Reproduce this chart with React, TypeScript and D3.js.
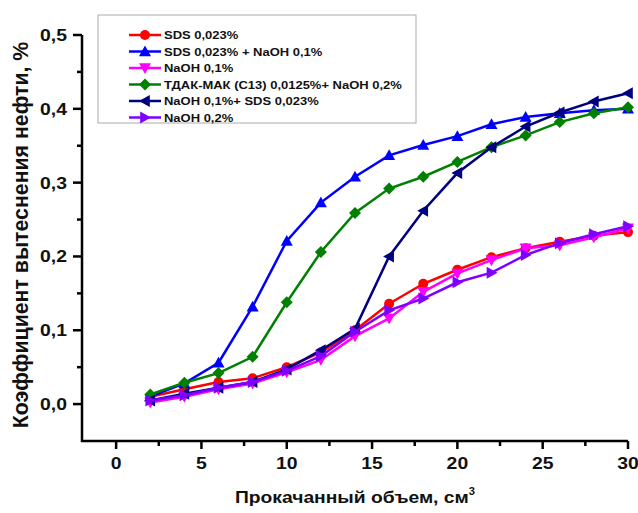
import React from "react";
import * as d3 from "d3";

const xs = [2, 4, 6, 8, 10, 12, 14, 16, 18, 20, 22, 24, 26, 28, 30];
const sds = [0.01, 0.02, 0.03, 0.035, 0.05, 0.07, 0.1, 0.136, 0.163, 0.182, 0.199, 0.211, 0.22, 0.228, 0.233];
const sdsNaoh = [0.01, 0.028, 0.056, 0.132, 0.221, 0.273, 0.308, 0.337, 0.351, 0.363, 0.379, 0.389, 0.394, 0.398, 0.4];
const naoh01 = [0.002, 0.01, 0.02, 0.028, 0.043, 0.06, 0.092, 0.116, 0.152, 0.177, 0.195, 0.211, 0.215, 0.226, 0.238];
const tdak = [0.013, 0.029, 0.042, 0.064, 0.138, 0.206, 0.259, 0.292, 0.308, 0.328, 0.348, 0.364, 0.382, 0.394, 0.402];
const naohSds = [0.005, 0.014, 0.022, 0.03, 0.047, 0.073, 0.102, 0.2, 0.262, 0.313, 0.348, 0.376, 0.395, 0.41, 0.421];
const naoh02 = [0.005, 0.012, 0.022, 0.03, 0.045, 0.065, 0.098, 0.127, 0.143, 0.165, 0.178, 0.202, 0.218, 0.23, 0.241];

const seriesNames = [
  "SDS 0,023%",
  "SDS 0,023% + NaOH 0,1%",
  "NaOH 0,1%",
  "ТДАК-МАК (С13) 0,0125%+ NaOH 0,2%",
  "NaOH 0,1%+ SDS 0,023%",
  "NaOH 0,2%",
];
const seriesValues = [sds, sdsNaoh, naoh01, tdak, naohSds, naoh02];
const seriesColors = ["#ff0000", "#0000ff", "#ff00ff", "#008000", "#000080", "#8000ff"];
const seriesMarkers = ["circle", "up", "down", "diamond", "left", "right"];

const xTicks = [0, 5, 10, 15, 20, 25, 30];
const xMinor = [2.5, 7.5, 12.5, 17.5, 22.5, 27.5];
const yTicks = [0, 0.1, 0.2, 0.3, 0.4, 0.5];
const yMinor = [0.05, 0.15, 0.25, 0.35, 0.45];

const X0 = 82, X1 = 628, Y0 = 441, Y1 = 35;
const SX = 1.12;

function marker(type: string, cx: number, cy: number, color: string, key: string | number) {
  const s = 6;
  if (type === "circle") return <circle key={key} cx={cx} cy={cy} r={5} fill={color} />;
  let pts: number[][] = [];
  if (type === "up") pts = [[0, -s], [s, s * 0.8], [-s, s * 0.8]];
  if (type === "down") pts = [[0, s], [s, -s * 0.8], [-s, -s * 0.8]];
  if (type === "left") pts = [[-s, 0], [s * 0.8, -s], [s * 0.8, s]];
  if (type === "right") pts = [[s, 0], [-s * 0.8, -s], [-s * 0.8, s]];
  if (type === "diamond") pts = [[0, -s], [s, 0], [0, s], [-s, 0]];
  return (
    <polygon key={key} points={pts.map((p) => `${cx + p[0]},${cy + p[1]}`).join(" ")} fill={color} />
  );
}

export default function App() {
  const x = d3.scaleLinear().domain([-2, 30]).range([X0, X1]);
  const y = d3.scaleLinear().domain([-0.05, 0.5]).range([Y0, Y1]);
  const line = d3.line<number>().x((_, i) => x(xs[i])).y((v) => y(v));
  const font = "'Liberation Sans', Arial, sans-serif";
  const fmt = (v: number) => v.toFixed(1).replace(".", ",");

  return (
    <svg width={638} height={513} style={{ position: "absolute", left: 0, top: 0, background: "#fff" }} fontFamily={font}>
      <rect width={638} height={513} fill="#fff" />
      {/* legend */}
      <rect x={98} y={15} width={318} height={108} fill="#fff" stroke="#aaa" strokeWidth={1} />
      {seriesNames.map((n, i) => {
        const ly = 35 + i * 16.5;
        return (
          <g key={n}>
            <line x1={129} x2={161} y1={ly} y2={ly} stroke={seriesColors[i]} strokeWidth={2.5} />
            {marker(seriesMarkers[i], 145, ly, seriesColors[i], "m")}
            <g transform={`translate(164,${ly + 4.2}) scale(${SX},1)`}>
              <text fontSize={11.6} fontWeight="bold" fill="#111">{n}</text>
            </g>
          </g>
        );
      })}
      {/* series */}
      {seriesValues.map((vals, i) => (
        <g key={i}>
          <path d={line(vals) || ""} fill="none" stroke={seriesColors[i]} strokeWidth={2.5} />
          {vals.map((v, j) => marker(seriesMarkers[i], x(xs[j]), y(v), seriesColors[i], j))}
        </g>
      ))}
      {/* axes */}
      <path d={`M${X0},${Y1} V${Y0} H${X1}`} fill="none" stroke="#000" strokeWidth={2.5} />
      {xTicks.map((t) => (
        <g key={t}>
          <line x1={x(t)} x2={x(t)} y1={Y0} y2={Y0 + 8} stroke="#000" strokeWidth={2.5} />
          <g transform={`translate(${x(t)},${Y0 + 28}) scale(${SX},1)`}>
            <text textAnchor="middle" fontSize={17.3} fontWeight="bold" fill="#111">{t}</text>
          </g>
        </g>
      ))}
      {xMinor.map((t) => (
        <line key={t} x1={x(t)} x2={x(t)} y1={Y0} y2={Y0 + 5} stroke="#000" strokeWidth={2.5} />
      ))}
      {yTicks.map((t) => (
        <g key={t}>
          <line x1={X0 - 9} x2={X0} y1={y(t)} y2={y(t)} stroke="#000" strokeWidth={2.5} />
          <g transform={`translate(${X0 - 15},${y(t) + 6}) scale(${SX},1)`}>
            <text textAnchor="end" fontSize={17.3} fontWeight="bold" fill="#111">{fmt(t)}</text>
          </g>
        </g>
      ))}
      {yMinor.map((t) => (
        <line key={t} x1={X0 - 5} x2={X0} y1={y(t)} y2={y(t)} stroke="#000" strokeWidth={2.5} />
      ))}
      {/* axis titles */}
      <g transform={`translate(355,503) scale(${SX},1)`}>
        <text textAnchor="middle" fontSize={17.2} fontWeight="bold" fill="#111">
          Прокачанный объем, см<tspan dy={-8} fontSize={10}>3</tspan>
        </text>
      </g>
      <g transform={`translate(28,235) rotate(-90)`}>
        <text textAnchor="middle" fontSize={21.3} fontWeight="bold" fill="#111">
          Коэффициент вытеснения нефти, %
        </text>
      </g>
    </svg>
  );
}
